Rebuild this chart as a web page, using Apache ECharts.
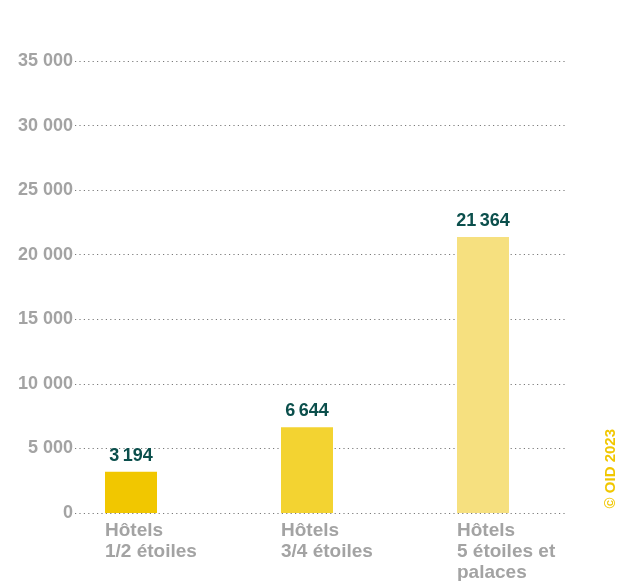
<!DOCTYPE html>
<html><head><meta charset="utf-8">
<script src="https://cdn.jsdelivr.net/npm/echarts@6/dist/echarts.min.js"></script>
<style>html,body{margin:0;padding:0;background:#fff}#c{width:617px;height:581px}</style>
</head><body><div id="c"></div>
<script>
const categories = ["Hôtels\n1/2 étoiles", "Hôtels\n3/4 étoiles", "Hôtels\n5 étoiles et\npalaces"];
const values = [3194, 6644, 21364];
const barColors = ["#F1C700", "#F3D331", "#F6E07F"];
const yTicks = [0, 5000, 10000, 15000, 20000, 25000, 30000, 35000];

const fmt = (v, sep) => String(v).replace(/\B(?=(\d{3})+(?!\d))/g, sep);
const font = "'Liberation Sans', Arial, sans-serif";
const chart = echarts.init(document.getElementById('c'));
const yBase = {type:'value', min:yTicks[0], max:yTicks[yTicks.length-1], interval:yTicks[1]-yTicks[0]};
chart.setOption({
  animation:false,
  grid:[
    {left:75, right:51, top:61, bottom:68, outerBoundsMode:'none'},
    {left:43, right:46, top:61, bottom:68, outerBoundsMode:'none'},
    {left:17, right:72, top:61, bottom:68, outerBoundsMode:'none'}
  ],
  xAxis:[
    {gridIndex:0, type:'category', data:categories, show:false},
    {gridIndex:1, type:'category', data:categories, axisLine:{show:false}, axisTick:{show:false}, axisLabel:{show:false}},
    {gridIndex:2, type:'category', data:categories, axisLine:{show:false}, axisTick:{show:false},
      axisLabel:{align:'left', verticalAlign:'top', margin:7, color:'#A3A3A3', fontFamily:font, fontWeight:'bold', fontSize:19, lineHeight:21}}
  ],
  yAxis:[
    Object.assign({gridIndex:0, axisLine:{show:false}, axisTick:{show:false},
      axisLabel:{margin:2, color:'#A3A3A3', fontFamily:font, fontWeight:'bold', fontSize:18, formatter:v=>fmt(v,' ')},
      splitLine:{lineStyle:{color:'#7a7a7a', width:1, type:[1.2,3.2]}}}, yBase),
    Object.assign({gridIndex:1, show:false, splitLine:{show:false}}, yBase),
    Object.assign({gridIndex:2, show:false, splitLine:{show:false}}, yBase)
  ],
  series:[{
    type:'bar', xAxisIndex:1, yAxisIndex:1, barWidth:52,
    data: values.map((v,i)=>({value:v, itemStyle:{color:barColors[i]}})),
    label:{show:true, position:'top', distance:7, color:'#0B4F4C', fontFamily:font, fontWeight:'bold', fontSize:18,
      formatter:p=>fmt(p.value,'\u2009')}
  }],
  graphic:[{type:'text', left:603, top:429, rotation:Math.PI/2, style:{text:'© OID 2023', fill:'#F1C700', font:'bold 15px '+font}}]
});
</script></body></html>
